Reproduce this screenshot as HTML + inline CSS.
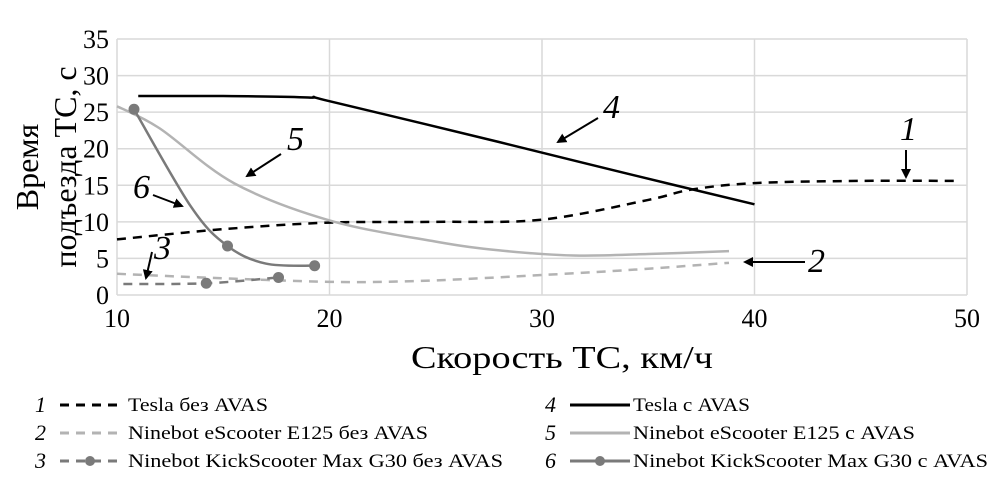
<!DOCTYPE html>
<html><head><meta charset="utf-8"><style>
body{margin:0;background:#fff;width:1004px;height:491px;overflow:hidden}
svg text{font-family:"Liberation Serif",serif}
</style></head><body>
<svg id="chart" width="1004" height="491" viewBox="0 0 1004 491">
<defs><marker id="ah" markerWidth="10" markerHeight="10" refX="8" refY="5" orient="auto" markerUnits="userSpaceOnUse"><path d="M0,0 L10,5 L0,10 z" fill="#000"/></marker></defs>
<g id="grid"></g>
<g id="series"></g>
<g id="axes"></g>
<text x="562" y="368" font-size="32" text-anchor="middle" textLength="302" lengthAdjust="spacingAndGlyphs">Скорость ТС, км/ч</text>
<text transform="translate(38,167) rotate(-90)" font-size="32" text-anchor="middle">Время</text>
<text transform="translate(76,167) rotate(-90)" font-size="32" text-anchor="middle">подъезда ТС, с</text>
<g font-size="34" font-style="italic">
<text x="603" y="118">4</text>
<line x1="598" y1="118" x2="558" y2="142" stroke="#000" stroke-width="2" marker-end="url(#ah)"/>
<text x="900" y="140">1</text>
<line x1="906" y1="150" x2="906" y2="177" stroke="#000" stroke-width="2" marker-end="url(#ah)"/>
<text x="287" y="150">5</text>
<line x1="281" y1="154" x2="247" y2="176" stroke="#000" stroke-width="2" marker-end="url(#ah)"/>
<text x="133" y="198">6</text>
<line x1="153" y1="195" x2="182" y2="206" stroke="#000" stroke-width="2" marker-end="url(#ah)"/>
<text x="154" y="259">3</text>
<line x1="152" y1="252" x2="146" y2="278" stroke="#000" stroke-width="2" marker-end="url(#ah)"/>
<text x="808" y="272">2</text>
<line x1="805" y1="262" x2="745" y2="262" stroke="#000" stroke-width="2" marker-end="url(#ah)"/>
</g>
<g id="legend"></g>
</svg>
<script>
const xTicks=[10,20,30,40,50];
const yTicks=[0,5,10,15,20,25,30,35];
const s1x=[10,15,20,25,30,35,37,40,45,49.5], s1y=[7.6,9,9.9,10,10.3,13,14.4,15.3,15.6,15.6];
const s2x=[10,14,20,24,28.5,34,38.8], s2y=[2.9,2.4,1.8,1.9,2.5,3.4,4.4];
const s3x=[10.3,14.2,17.6], s3y=[1.5,1.6,2.4];
const s4x=[11,15,19,20,28,34,40], s4y=[27.2,27.2,27,26.5,20.9,16.6,12.4];
const s5x=[10,12,15.5,20,25,28,31.5,35,38.8], s5y=[25.8,22.8,15.3,10.2,7.3,6.1,5.4,5.6,6.0];
const s6x=[10.8,13.5,15.2,17,19.3], s6y=[25.4,12,6.7,4.3,4.0];
const legendNames=["Tesla без AVAS","Ninebot eScooter E125 без AVAS","Ninebot KickScooter Max G30 без AVAS","Tesla с AVAS","Ninebot eScooter E125 с AVAS","Ninebot KickScooter Max G30 с AVAS"];
const X0=117,X1=967,Y0=295,Y1=39;
const xs=v=>X0+(v-10)/40*(X1-X0), ys=v=>Y0-v/35*(Y0-Y1);
const NS="http://www.w3.org/2000/svg";
function mk(t,a,p){const e=document.createElementNS(NS,t);for(const k in a)e.setAttribute(k,a[k]);p.appendChild(e);return e;}
const grid=document.getElementById('grid'),axes=document.getElementById('axes'),ser=document.getElementById('series'),leg=document.getElementById('legend');
yTicks.forEach(v=>{const l=mk('line',{x1:X0,x2:X1,y1:ys(v),y2:ys(v),stroke:'#d9d9d9','stroke-width':1.5},grid);


const t=mk('text',{x:X0-8,y:ys(v)+9,'font-size':26,'text-anchor':'end'},axes);t.textContent=v;

});
xTicks.forEach(v=>{const l=mk('line',{x1:xs(v),x2:xs(v),y1:Y1,y2:Y0,stroke:'#d9d9d9','stroke-width':1.5},grid);


const t=mk('text',{x:xs(v),y:Y0+32,'font-size':26,'text-anchor':'middle'},axes);t.textContent=v;

});
function path(X,Y){const P=X.map((x,i)=>[xs(x),ys(Y[i])]);let d='M'+P[0].join(',');
for(let i=0;i<P.length-1;i++){const p0=P[i-1]||P[i],p1=P[i],p2=P[i+1],p3=P[i+2]||p2;
d+=' C'+(p1[0]+(p2[0]-p0[0])/6)+','+(p1[1]+(p2[1]-p0[1])/6)+' '+(p2[0]-(p3[0]-p1[0])/6)+','+(p2[1]-(p3[1]-p1[1])/6)+' '+p2[0]+','+p2[1];}return d;}
const styles=[{c:'#000',w:2.5,d:'9 7'},{c:'#b3b3b3',w:2.5,d:'9 7'},{c:'#7a7a7a',w:2.5,d:'9 7'},{c:'#000',w:2.5,d:''},{c:'#b3b3b3',w:2.5,d:''},{c:'#7a7a7a',w:2.5,d:''}];
const data=[[s1x,s1y],[s2x,s2y],[s3x,s3y],[s4x,s4y],[s5x,s5y],[s6x,s6y]];
data.forEach((s,i)=>{const st=styles[i];const p=mk('path',{d:path(s[0],s[1]),fill:'none',stroke:st.c,'stroke-width':st.w,'stroke-dasharray':st.d},ser);

});
s3x.forEach((x,i)=>{if(i===0)return;const c=mk('circle',{cx:xs(x),cy:ys(s3y[i]),r:5.5,fill:'#7a7a7a'},ser);

});
s6x.forEach((x,i)=>{if(i===1||i===3)return;const c=mk('circle',{cx:xs(x),cy:ys(s6y[i]),r:5.5,fill:'#7a7a7a'},ser);

});
const lens=[140,300,375,117,282,355];
legendNames.forEach((n,i)=>{const col=i<3?0:1,row=i%3;const bx=col?545:35,y=405+row*28;const st=styles[i];
const g=mk('g',{},leg);


const num=mk('text',{x:bx,y:y+7,'font-size':22,'font-style':'italic'},g);num.textContent=i+1;
mk('line',{x1:bx+25,x2:bx+85,y1:y,y2:y,stroke:st.c,'stroke-width':3,'stroke-dasharray':st.d?'9 7':''},g);
if(i===2||i===5)mk('circle',{cx:bx+55,cy:y,r:5,fill:st.c},g);
const t=mk('text',{x:col?633:128,y:y+6,'font-size':19},g);t.textContent=n;
t.setAttribute('textLength',lens[i]);t.setAttribute('lengthAdjust','spacingAndGlyphs');});
</script>
</body></html>
